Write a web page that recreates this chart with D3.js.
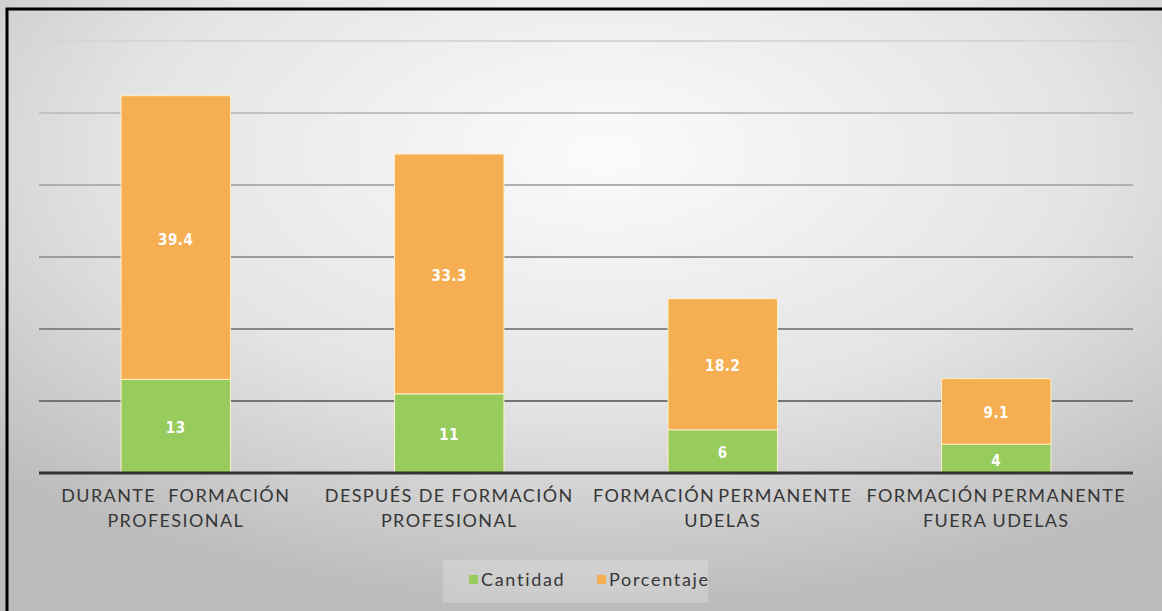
<!DOCTYPE html>
<html>
<head>
<meta charset="utf-8">
<script src="https://cdn.jsdelivr.net/npm/d3@7"></script>
<style>
  html, body { margin: 0; padding: 0; background: #fff; }
  svg { display: block; }
</style>
</head>
<body>
<svg id="chart" width="1162" height="611"></svg>
<script>
// data
var categories = ['DURANTE  FORMACIÓN|PROFESIONAL', 'DESPUÉS DE FORMACIÓN|PROFESIONAL', 'FORMACIÓN PERMANENTE|UDELAS', 'FORMACIÓN PERMANENTE|FUERA UDELAS']
var cantidad = [13, 11, 6, 4]
var porcentaje = [39.4, 33.3, 18.2, 9.1]
var seriesNames = ['Cantidad', 'Porcentaje']
var yTicks = [0, 10, 20, 30, 40, 50, 60]

var colors = { Cantidad: '#97cb5b', Porcentaje: '#f5ae52' }

var svg = d3.select('#chart'),
    width = +svg.attr('width'),
    height = +svg.attr('height')

// background gradient
var defs = svg.append('defs')
var grad = defs.append('radialGradient')
    .attr('id', 'bg')
    .attr('cx', '52%').attr('cy', '25%').attr('r', '75%')
grad.append('stop').attr('offset', '0%').attr('stop-color', '#fbfbfb')
grad.append('stop').attr('offset', '55%').attr('stop-color', '#e4e4e4')
grad.append('stop').attr('offset', '100%').attr('stop-color', '#bbbbbb')

svg.append('rect')
    .attr('width', width).attr('height', height)
    .attr('fill', 'url(#bg)')

// outer frame (only top / left visible)
svg.append('rect')
    .attr('x', 7).attr('y', 9)
    .attr('width', width + 20).attr('height', height + 20)
    .attr('fill', 'none')
    .attr('stroke', '#000')
    .attr('stroke-width', 3)

var plot = { left: 39, right: 1133, top: 41, bottom: 473 }

var x = d3.scaleBand()
    .domain(d3.range(categories.length))
    .range([plot.left, plot.right])
    .paddingInner(0.6)
    .paddingOuter(0.3)

var y = d3.scaleLinear()
    .domain([0, 60])
    .range([plot.bottom, plot.top])

// gridlines, darker toward the bottom
var gridColor = d3.scaleLinear().domain([10, 60]).range(['#747474', '#d6d6d6'])
svg.append('g')
    .selectAll('line')
    .data(yTicks.filter(function (d) { return d > 0 }))
    .enter()
    .append('line')
    .attr('x1', plot.left).attr('x2', plot.right)
    .attr('y1', function (d) { return y(d) })
    .attr('y2', function (d) { return y(d) })
    .attr('stroke', function (d) { return gridColor(d) })
    .attr('stroke-width', 2)

// stacked data
var rows = categories.map(function (c, i) {
    return { i: i, Cantidad: cantidad[i], Porcentaje: porcentaje[i] }
})
var stack = d3.stack().keys(seriesNames)(rows)

var layers = svg.append('g')
    .selectAll('g')
    .data(stack)
    .enter()
    .append('g')
    .attr('fill', function (d) { return colors[d.key] })

layers.selectAll('rect')
    .data(function (d) { return d })
    .enter()
    .append('rect')
    .attr('x', function (d) { return x(d.data.i) })
    .attr('width', x.bandwidth())
    .attr('y', function (d) { return y(d[1]) })
    .attr('height', function (d) { return y(d[0]) - y(d[1]) })
    .attr('stroke', '#fbf0c8')
    .attr('stroke-width', 1)

// value labels
layers.each(function (layer) {
    d3.select(this).selectAll('text')
        .data(layer)
        .enter()
        .append('text')
        .attr('x', function (d) { return x(d.data.i) + x.bandwidth() / 2 })
        .attr('y', function (d) { return (y(d[0]) + y(d[1])) / 2 + 2 })
        .attr('text-anchor', 'middle')
        .attr('dominant-baseline', 'central')
        .attr('fill', '#fff')
        .attr('font-family', 'DejaVu Sans Condensed, DejaVu Sans, sans-serif')
        .attr('font-weight', 'bold')
        .attr('font-size', 15)
        .attr('letter-spacing', 0.5)
        .text(function (d) { return d.data[layer.key] })
})

// baseline
svg.append('line')
    .attr('x1', plot.left).attr('x2', plot.right)
    .attr('y1', y(0)).attr('y2', y(0))
    .attr('stroke', '#333')
    .attr('stroke-width', 3)

// category labels
var catLabels = svg.append('g')
    .selectAll('text')
    .data(categories)
    .enter()
    .append('text')
    .attr('text-anchor', 'middle')
    .attr('fill', '#363636')
    .attr('font-family', 'Lato, sans-serif')
    .attr('font-size', 18)
    .attr('letter-spacing', 1.4)
    .attr('xml:space', 'preserve')
catLabels.each(function (d, i) {
    var t = d3.select(this)
    var cx = x(i) + x.bandwidth() / 2
    d.split('|').forEach(function (line, k) {
        t.append('tspan')
            .attr('x', cx)
            .attr('y', 502 + k * 25)
            .attr('word-spacing', (i >= 2 && k === 0) ? -3 : 0)
            .text(line)
    })
})

// legend
var legend = svg.append('g')
legend.append('rect')
    .attr('x', 443).attr('y', 560)
    .attr('width', 265).attr('height', 43)
    .attr('fill', '#ffffff')
    .attr('fill-opacity', 0.22)
var lx = [469, 597]
seriesNames.forEach(function (s, k) {
    legend.append('rect')
        .attr('x', lx[k]).attr('y', 575)
        .attr('width', 9).attr('height', 9)
        .attr('fill', colors[s])
    legend.append('text')
        .attr('x', lx[k] + 12).attr('y', 586)
        .attr('fill', '#363636')
        .attr('font-family', 'Lato, sans-serif')
        .attr('font-size', 18)
        .attr('letter-spacing', 1.7)
        .text(s)
})
</script>
</body>
</html>
